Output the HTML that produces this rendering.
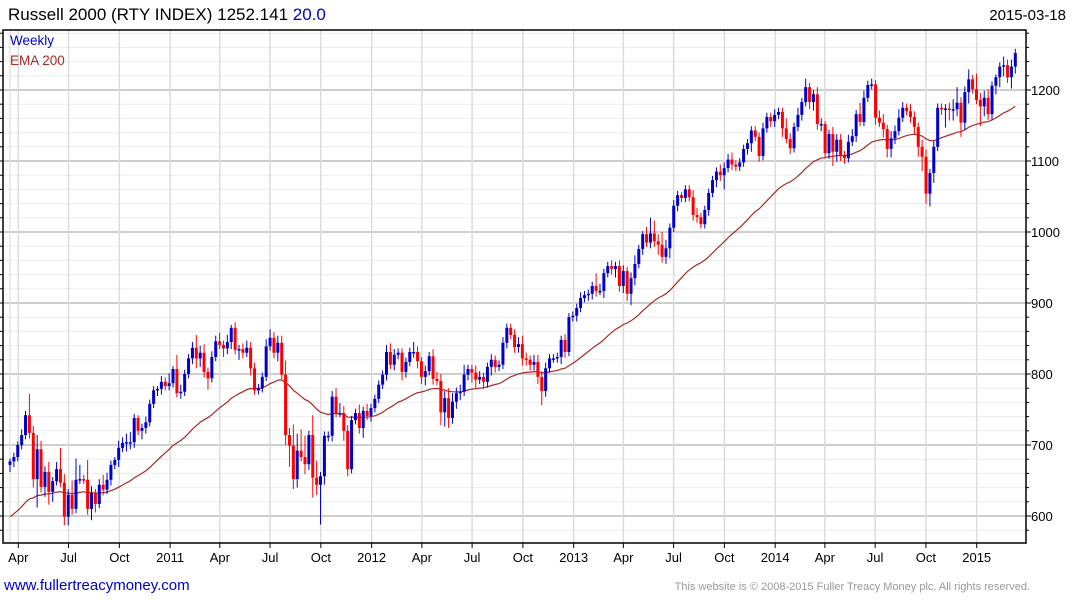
<!DOCTYPE html>
<html><head><meta charset="utf-8"><style>
body{margin:0;background:#fff;width:1075px;height:600px;overflow:hidden;font-family:"Liberation Sans",sans-serif}
svg{display:block}
</style></head><body>
<svg id="chart" width="1075" height="600" xmlns="http://www.w3.org/2000/svg" font-family="Liberation Sans, sans-serif">
<rect width="1075" height="600" fill="#fff"/>
<g id="grid"></g>
<g id="ema"></g>
<g id="candles"></g>
<g id="axes"></g>
<text x="8" y="20" font-size="17" fill="#000">Russell 2000 (RTY INDEX) 1252.141 <tspan fill="#0000cc">20.0</tspan></text>
<text x="1066" y="20" font-size="15" fill="#000" text-anchor="end">2015-03-18</text>
<text x="10" y="45" font-size="13.5" fill="#0000cc">Weekly</text>
<text x="10" y="65" font-size="13.5" fill="#a52a2a">EMA 200</text>
<text x="4" y="590" font-size="15" fill="#0000cc">www.fullertreacymoney.com</text>
<text x="1030" y="590" font-size="11" fill="#999" text-anchor="end">This website is © 2008-2015 Fuller Treacy Money plc. All rights reserved.</text>
</svg>
<script>
const closes=[677,683,700,714,742,717,652,694,641,662,634,649,666,647,599,630,610,651,652,651,610,632,617,644,637,651,672,679,696,703,704,704,738,720,724,732,758,777,779,789,783,787,807,773,775,800,822,837,822,830,803,794,824,846,841,836,845,865,834,835,830,837,808,777,780,796,839,851,830,844,799,714,699,652,692,683,673,714,654,644,656,713,713,768,745,745,720,666,735,745,724,748,741,752,765,785,799,831,813,827,830,803,817,831,831,818,796,804,825,793,790,746,766,738,761,773,775,799,807,802,792,796,789,810,820,810,813,844,865,855,838,842,822,820,813,817,796,776,808,822,822,824,848,831,880,882,893,907,911,913,924,917,917,942,952,948,952,924,945,913,935,955,976,997,985,998,987,982,965,977,1006,1037,1052,1048,1060,1049,1024,1021,1011,1031,1055,1073,1085,1080,1090,1102,1095,1092,1098,1117,1125,1143,1134,1107,1146,1162,1156,1165,1169,1146,1131,1118,1148,1165,1183,1204,1183,1194,1152,1152,1111,1138,1113,1130,1108,1104,1127,1135,1166,1155,1189,1207,1208,1161,1154,1145,1117,1132,1142,1161,1175,1170,1162,1148,1120,1106,1054,1083,1120,1175,1173,1174,1173,1173,1182,1154,1197,1215,1201,1186,1177,1189,1166,1206,1218,1233,1235,1218,1233,1252];
const firstOpen=672;
const wickUp=[4,6,5,8,6,30,10,20,12,8,14,6,10,30,12,8,20,30,20,6,28,10,6,8,14,10,6,4,10,8,12,14,6,4,6,8,6,6,4,8,6,14,4,20,10,6,6,8,18,10,12,6,8,8,12,6,10,4,8,6,8,10,8,8,6,6,10,12,8,10,10,20,10,30,24,30,30,6,28,24,6,6,6,8,12,14,10,8,6,6,12,6,10,6,6,6,6,10,12,8,6,6,6,6,14,8,6,8,6,10,10,10,10,14,12,8,10,14,6,6,10,8,6,6,8,6,6,8,6,6,8,10,12,8,6,10,10,8,8,6,6,6,6,8,6,6,6,8,6,6,6,18,10,6,6,8,6,8,8,6,8,12,6,4,10,22,18,10,18,12,6,8,6,4,6,6,10,10,6,6,6,6,6,10,8,8,10,6,6,6,6,6,6,6,8,6,6,8,6,6,14,8,6,10,6,12,6,6,10,8,4,6,10,8,8,6,10,10,6,16,10,6,8,6,10,12,6,10,8,12,8,6,10,8,6,10,10,6,8,6,6,6,8,14,22,8,8,14,6,22,10,10,12,6,4,6,12,8,10,6,8,8];
const wickDn=[10,8,6,6,6,8,12,40,8,14,18,14,6,6,12,12,8,6,6,6,8,16,12,6,8,6,8,6,10,6,12,10,8,6,12,8,6,6,8,8,6,6,6,6,8,6,6,8,14,12,8,16,6,6,6,12,8,10,6,14,8,6,10,6,6,6,6,6,8,12,6,14,30,14,12,6,14,8,28,14,56,12,8,8,6,6,14,10,6,6,8,14,6,8,6,6,6,8,6,8,6,12,8,6,8,10,10,12,6,8,6,18,20,14,8,10,10,6,8,14,12,6,10,8,12,8,6,6,8,6,8,8,10,8,8,8,10,20,8,6,6,6,10,8,6,6,8,6,6,8,8,8,6,10,6,8,12,8,10,10,16,10,6,8,6,8,8,14,8,10,14,6,8,6,6,6,8,8,6,6,8,6,10,8,20,6,8,6,6,6,8,12,6,8,6,6,8,8,6,12,6,8,6,6,8,6,10,12,8,10,6,8,20,14,8,8,6,6,8,6,6,6,6,10,6,12,12,12,8,6,6,6,8,10,14,20,14,18,14,6,8,26,16,16,10,20,10,16,6,6,28,14,8,8,12,14,14,8,16,10,8,6,6,12,14,14,6];
const tickLabels=["Apr","Jul","Oct","2011","Apr","Jul","Oct","2012","Apr","Jul","Oct","2013","Apr","Jul","Oct","2014","Apr","Jul","Oct","2015"];
const tickDates=["2010-04-01","2010-07-01","2010-10-01","2011-01-01","2011-04-01","2011-07-01","2011-10-01","2012-01-01","2012-04-01","2012-07-01","2012-10-01","2013-01-01","2013-04-01","2013-07-01","2013-10-01","2014-01-01","2014-04-01","2014-07-01","2014-10-01","2015-01-01"];
const yTicks=[600,700,800,900,1000,1100,1200];
const emaSeed=595;
const emaPeriod=40;

const NS="http://www.w3.org/2000/svg";
const L=3,R=1026,T=30,B=543;
const N=closes.length;
const x0=10,x1=1015.3;
const step=(x1-x0)/(N-1);
function xi(i){return x0+i*step;}
const dA=new Date("2010-04-01").getTime(),dB=new Date("2015-01-01").getTime();
function xd(s){const d=new Date(s).getTime();return 18.3+(d-dA)/(dB-dA)*(976.7-18.3);}
function y(v){return 90+(1200-v)*0.71;}
function mk(tag,attrs,parent){const e=document.createElementNS(NS,tag);for(const k in attrs)e.setAttribute(k,attrs[k]);parent.appendChild(e);return e;}
const grid=document.getElementById('grid'),axes=document.getElementById('axes'),cg=document.getElementById('candles'),eg=document.getElementById('ema');
for(let v=580;v<=1280;v+=20){
  const yy=y(v); if(yy<T||yy>B)continue;
  const major=v%100===0;
  const l=mk('line',{x1:L,x2:R,y1:yy,y2:yy,stroke:major?'#bdbdbd':'#ececec','stroke-width':major?1.5:1},grid);
  
  
  const t=mk('line',{x1:R,x2:R+(major?5:3),y1:yy,y2:yy,stroke:'#000'},axes);
  
  
  const t2=mk('line',{x1:0,x2:L,y1:yy,y2:yy,stroke:'#000'},axes);
  
  
}
yTicks.forEach(v=>{
  const t=mk('text',{x:R+5,y:y(v)+5,'font-size':13,fill:'#000'},axes);
  t.textContent=v;
  
  
});
const vl0=mk('line',{x1:x0,x2:x0,y1:T,y2:B,stroke:'#e0e0e0','stroke-width':1.2},grid);


tickDates.forEach((d,k)=>{
  const xx=xd(d);
  const l=mk('line',{x1:xx,x2:xx,y1:T,y2:B,stroke:'#dcdcdc','stroke-width':1.5},grid);
  
  
  const tk=mk('line',{x1:xx,x2:xx,y1:B,y2:B+5,stroke:'#000'},axes);
  
  
  const t=mk('text',{x:xx,y:562,'font-size':13,fill:'#000','text-anchor':'middle'},axes);
  t.textContent=tickLabels[k];
  
  
});
const fr=mk('path',{d:`M${L},${T}H${R}V${B}H${L}Z`,fill:'none',stroke:'#000','stroke-width':1.5},axes);


let ema=emaSeed,pts=[];
const a=2/(emaPeriod+1);
closes.forEach((c,i)=>{ema=ema+a*(c-ema);pts.push(xi(i).toFixed(1)+','+y(ema).toFixed(1));});
const pl=mk('polyline',{points:pts.join(' '),fill:'none',stroke:'#a52a2a','stroke-width':1.2},eg);


closes.forEach((c,i)=>{
  const o=i===0?firstOpen:closes[i-1];
  const hi=Math.max(o,c)+wickUp[i], lo=Math.min(o,c)-wickDn[i];
  const col=c>=o?'#0000cc':'#ff0000';
  const xx=xi(i);
  const g=mk('g',{},cg);
  
  
  mk('line',{x1:xx,x2:xx,y1:y(hi),y2:y(lo),stroke:col,'stroke-width':1},g);
  const top=y(Math.max(o,c)),bot=y(Math.min(o,c));
  mk('rect',{x:xx-1.5,y:top,width:3,height:Math.max(1.5,bot-top),fill:col},g);
});
</script>
</body></html>
